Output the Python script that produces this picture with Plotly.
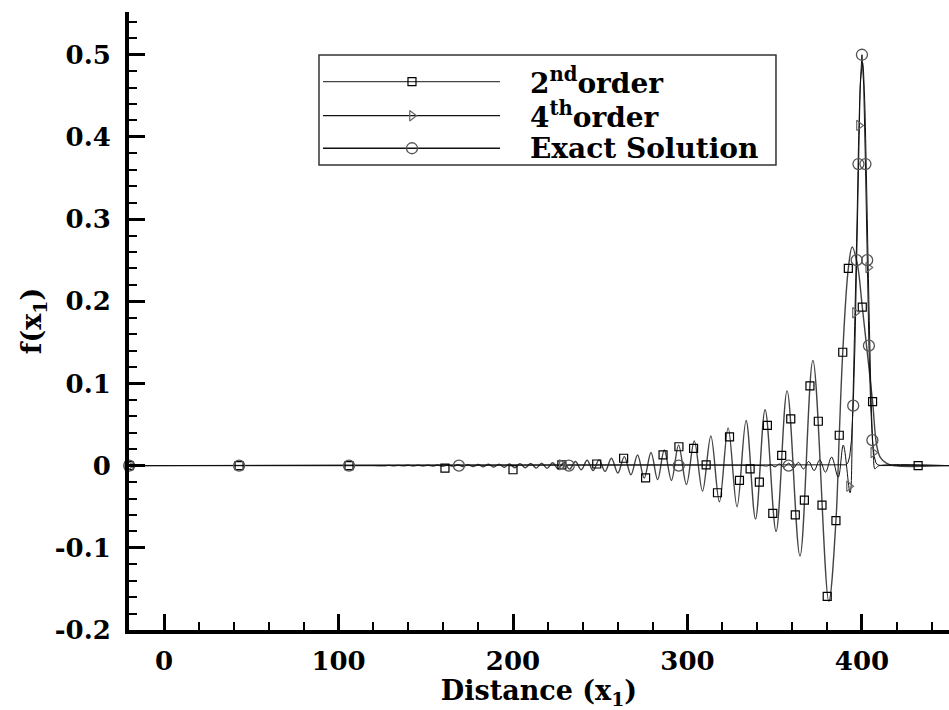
import plotly.graph_objects as go

# ---------------- data ----------------
# 2nd-order scheme: trailing dispersive wave train followed by the smeared pulse
x_2nd = [-20, 120, 126, 128.8, 131.6, 134.4, 137.2, 140, 142.8, 145.6, 148.4, 151.2,
         154, 156.8, 159.7, 162.6, 165.5, 168.4, 171.3, 174.2, 177.1, 180, 183, 186,
         189, 192, 195, 198, 201, 204, 207.1, 210.2, 213.3, 216.4, 219.5, 222.7, 225.9,
         229.1, 232.4, 235.8, 239.1, 242.5, 245.9, 249.3, 252.8, 256.4, 260.1, 263.8,
         267.6, 271.4, 275.2, 279.1, 282.9, 286.7, 290.8, 294.9, 299.4, 303.9, 308.6,
         313.4, 318.3, 323.3, 328.4, 333.6, 339.0, 344.5, 350.8, 357.1, 364.5, 371.9,
         381.0, 385.1, 387.0, 389.0, 392.2, 394.4, 397.4, 400.2, 403.2, 406.1, 408.4,
         410.5, 414.0, 418.0, 450]
f_2nd = [0, 0, -0.0003, 0.0003, -0.0003, 0.0003, -0.0003, 0.0005, -0.0005, 0.0005, -0.0005, 0.0005,
         -0.0006, 0.0008, -0.0008, 0.0008, -0.0009, 0.001, -0.001, 0.0012, -0.0012, 0.0013, -0.0014, 0.0016,
         -0.0017, 0.0019, -0.002, 0.0022, -0.0026, 0.0025, -0.0026, 0.0028, -0.003, 0.0031, -0.0033, 0.0035, -0.0038,
         0.004, -0.0043, 0.005, -0.005, 0.0065, -0.006, 0.007, -0.007, 0.009, -0.009, 0.011,
         -0.011, 0.013, -0.015, 0.016, -0.017, 0.019, -0.018, 0.025, -0.023, 0.030, -0.031,
         0.036, -0.044, 0.046, -0.050, 0.055, -0.065, 0.068, -0.080, 0.091, -0.110, 0.128,
         -0.165, -0.067, 0.037, 0.138, 0.240, 0.266, 0.245, 0.193, 0.135, 0.078, 0.025,
         0.010, 0.003, 0.0, 0]

# 2nd-order symbols
x_2nd_mk = [-20, 43, 106, 161, 200, 228, 248, 263.4, 276, 286, 295.1, 303.5, 310.7, 317.2,
            324.1, 329.8, 335.9, 341.2, 345.8, 348.9, 354.0, 359.2, 361.8, 367.0, 370.2, 375.0,
            377.1, 380.1, 385.1, 387.0, 389.0, 392.2, 400.2, 406.1, 432.2]
f_2nd_mk = [0, 0, 0, -0.003, -0.005, 0.001, 0.002, 0.009, -0.015, 0.013, 0.023, 0.021, 0.001, -0.033,
            0.035, -0.018, -0.004, -0.020, 0.049, -0.058, 0.0125, 0.057, -0.060, -0.042, 0.097, 0.054,
            -0.048, -0.159, -0.067, 0.037, 0.138, 0.240, 0.193, 0.078, 0]

# 4th-order scheme: small short-wave ripple ahead of a sharp pulse
x_4th = [-20, 343, 345.5, 347.8, 350.2, 352.7, 355.3, 358, 360.8, 363.6, 366.5, 369.5, 372.6,
         375.8, 379.1, 382.6, 386.4, 389.3, 393.2, 394.6, 396.0, 397.2, 398.3, 399.3, 400.4,
         401.4, 402.5, 403.6, 404.6, 405.5, 406.5, 407.4, 408.5, 410, 450]
f_4th = [0, 0, -0.0005, 0.001, -0.0015, 0.002, -0.002, 0.003, -0.003, 0.004, -0.004, 0.005, -0.006,
         0.007, -0.008, 0.0105, -0.014, 0.025, -0.033, 0.060, 0.186, 0.300, 0.414, 0.470, 0.490,
         0.455, 0.360, 0.241, 0.140, 0.065, 0.016, -0.004, -0.002, 0, 0]

x_4th_mk = [-20, 228, 392.6, 396.0, 398.3, 403.6, 406.5]
f_4th_mk = [0, 0.001, -0.025, 0.186, 0.414, 0.241, 0.016]

# exact solution: Gaussian pulse of half-width 3 centred at x1 = 400
x_exact = [-20, 389, 390, 391, 392, 393, 394, 395, 396, 397, 398, 399, 400,
           401, 402, 403, 404, 405, 406, 407, 408, 409, 410, 411, 450]
f_exact = [0, 0.0001, 0.0002, 0.001, 0.0036, 0.0115, 0.031, 0.073, 0.146, 0.25, 0.367, 0.463, 0.5,
           0.463, 0.367, 0.25, 0.146, 0.073, 0.031, 0.0115, 0.0036, 0.001, 0.0002, 0.0001, 0]

x_exact_mk = [-20, 43, 106, 169, 232, 295, 358, 395, 397, 398, 400, 402, 403, 404, 406]
f_exact_mk = [0, 0, 0, 0, 0, 0, 0, 0.073, 0.25, 0.367, 0.5, 0.367, 0.25, 0.146, 0.031]

x_tick_vals = [0, 100, 200, 300, 400]
y_tick_vals = [-0.2, -0.1, 0, 0.1, 0.2, 0.3, 0.4, 0.5]
y_tick_text = ["-0.2", "-0.1", "0", "0.1", "0.2", "0.3", "0.4", "0.5"]
series_labels = ["2<sup>nd</sup>order", "4<sup>th</sup>order", "Exact Solution"]

# ---------------- styling ----------------
W, H = 949, 710
ML, MR, MT, MB = 129, 0, 12, 80
FONT = "DejaVu Serif"

styles = [
    dict(line=dict(color="#444444", width=1.4),
         marker=dict(symbol="square-open", size=8, color="black", line=dict(width=1.2))),
    dict(line=dict(color="#111111", width=1.0),
         marker=dict(symbol="triangle-right-open", size=9, color="#666666", line=dict(width=1.2))),
    dict(line=dict(color="#111111", width=1.0),
         marker=dict(symbol="circle-open", size=11, color="#555555", line=dict(width=1.3))),
]

fig = go.Figure()

curves = [
    (x_2nd, f_2nd, x_2nd_mk, f_2nd_mk, "spline"),
    (x_4th, f_4th, x_4th_mk, f_4th_mk, "spline"),
    (x_exact, f_exact, x_exact_mk, f_exact_mk, "linear"),
]
for (xs, ys, xm, ym, shp), st, name in zip(curves, styles, series_labels):
    fig.add_trace(go.Scatter(x=xs, y=ys, mode="lines", name=name, showlegend=False,
                             line=dict(shape=shp, smoothing=1.0, **st["line"]),
                             hoverinfo="skip"))
for (xs, ys, xm, ym, shp), st, name in zip(curves, styles, series_labels):
    fig.add_trace(go.Scatter(x=xm, y=ym, mode="markers", name=name, showlegend=False,
                             marker=st["marker"], cliponaxis=False))

# ---------------- hand-drawn legend (paper fractions on a hidden overlay axis) ----------------
leg_box = dict(x0=0.2317, x1=0.789, y0=0.7524, y1=0.9304)
leg_line_x = [0.2366, 0.4524]
leg_mark_x = 0.3451
leg_text_x = 0.4878
leg_rows_y = [0.8873, 0.8322, 0.7795]

fig.add_shape(type="rect", xref="paper", yref="paper", line=dict(color="#333333", width=1.5),
              fillcolor="white", layer="below", **leg_box)
for st, name, ry in zip(styles, series_labels, leg_rows_y):
    fig.add_trace(go.Scatter(x=leg_line_x, y=[ry, ry], xaxis="x2", yaxis="y2", mode="lines",
                             line=dict(color=st["line"]["color"], width=1.3), showlegend=False,
                             hoverinfo="skip"))
    fig.add_trace(go.Scatter(x=[leg_mark_x], y=[ry], xaxis="x2", yaxis="y2", mode="markers",
                             marker=st["marker"], showlegend=False, hoverinfo="skip",
                             cliponaxis=False))
    fig.add_annotation(x=leg_text_x, y=ry, xref="paper", yref="paper", text=name,
                       showarrow=False, xanchor="left", yanchor="middle", borderpad=0,
                       font=dict(family=FONT, size=28, color="black", weight="bold"))

axis_common = dict(
    showline=True, linewidth=4, linecolor="black", mirror=False,
    ticks="inside", ticklen=16, tickwidth=3, tickcolor="black",
    showgrid=False, zeroline=False,
    tickfont=dict(family=FONT, size=26, color="black", weight="bold"),
)

fig.update_layout(
    width=W, height=H, autosize=False,
    margin=dict(l=ML, r=MR, t=MT, b=MB),
    paper_bgcolor="white", plot_bgcolor="white",
    showlegend=False,
    xaxis=dict(range=[-20.1, 449.9], tickmode="array", tickvals=x_tick_vals,
               ticklabelstandoff=5,
               minor=dict(tickmode="linear", tick0=0, dtick=20, ticks="inside", ticklen=8,
                          tickwidth=1.5, tickcolor="black", showgrid=False),
               title=dict(text="Distance (x<sub>1</sub>)", standoff=2,
                          font=dict(family=FONT, size=27, color="black", weight="bold")),
               **axis_common),
    yaxis=dict(range=[-0.2, 0.552], tickmode="array", tickvals=y_tick_vals, ticktext=y_tick_text,
               ticklabelstandoff=9,
               minor=dict(tickmode="linear", tick0=0, dtick=0.02, ticks="inside", ticklen=8,
                          tickwidth=1.5, tickcolor="black", showgrid=False),
               title=dict(text="f(x<sub>1</sub>)", standoff=6,
                          font=dict(family=FONT, size=27, color="black", weight="bold")),
               **axis_common),
    xaxis2=dict(overlaying="x", range=[0, 1], visible=False),
    yaxis2=dict(overlaying="y", range=[0, 1], visible=False),
)

fig.write_html("out.html")
